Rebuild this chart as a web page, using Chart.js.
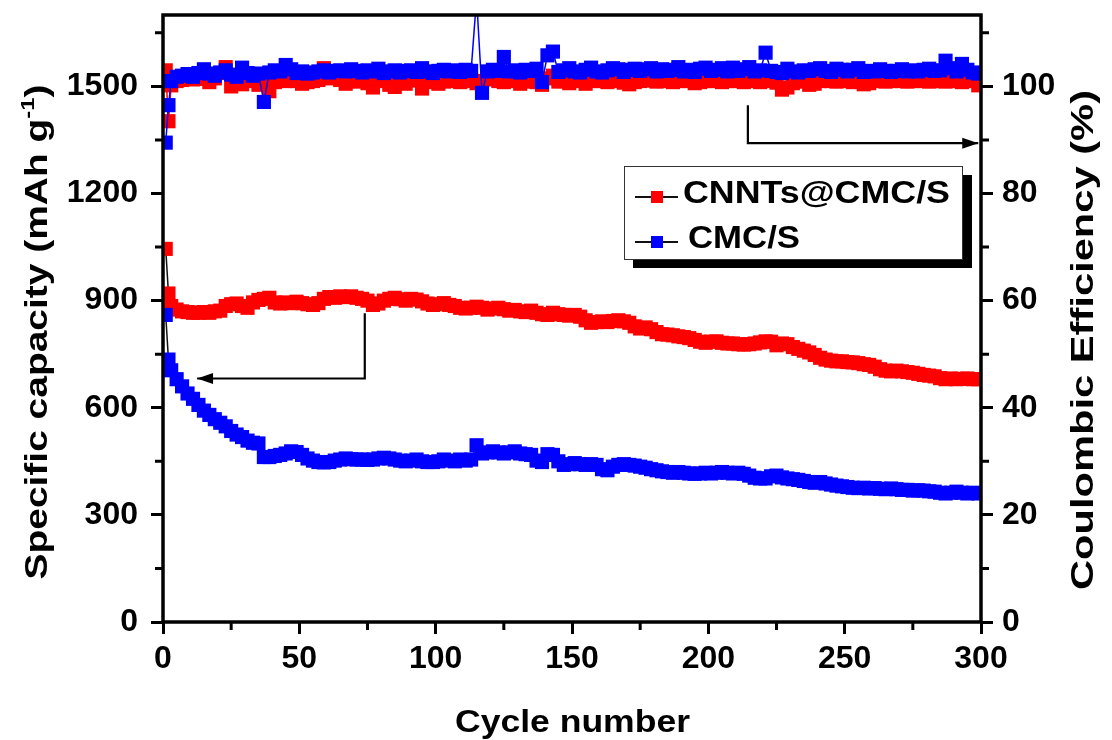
<!DOCTYPE html>
<html><head><meta charset="utf-8">
<script src="https://cdn.jsdelivr.net/npm/chart.js@4.4.1/dist/chart.umd.min.js"></script>
<style>html,body{margin:0;padding:0;background:#fff;}canvas{display:block;}</style>
</head><body>
<canvas id="c" width="1112" height="740"></canvas>
<script>
// ---------- data ----------
const cycles = [
1,2,3,5,7,9,11,13,15,17,
19,21,23,25,27,29,31,33,35,37,
39,41,43,45,47,49,51,53,55,57,
59,61,63,65,67,69,71,73,75,77,
79,81,83,85,87,89,91,93,95,97,
99,101,103,105,107,109,111,113,115,117,
119,121,123,125,127,129,131,133,135,137,
139,141,143,145,147,149,151,153,155,157,
159,161,163,165,167,169,171,173,175,177,
179,181,183,185,187,189,191,193,195,197,
199,201,203,205,207,209,211,213,215,217,
219,221,223,225,227,229,231,233,235,237,
239,241,243,245,247,249,251,253,255,257,
259,261,263,265,267,269,271,273,275,277,
279,281,283,285,287,289,291,293,295,297,
299];
const capCNNT = [
1045,920,885,875,870,868,866,866,868,866,
870,872,885,890,892,885,880,895,902,905,
908,895,892,895,893,897,893,890,888,893,
905,910,908,912,910,912,908,905,900,888,
892,900,905,908,904,900,905,903,898,892,
888,890,893,888,885,880,878,880,883,880,
875,878,880,876,872,874,870,868,872,866,
862,860,866,862,860,858,860,855,845,838,
840,842,840,843,845,842,838,828,822,825,
820,812,806,805,803,800,798,795,790,785,
782,785,786,782,780,780,778,777,778,780,
783,786,785,775,780,778,770,765,760,755,
748,740,735,732,730,730,728,727,725,722,
720,715,708,704,702,704,702,700,698,695,
692,690,688,683,680,682,680,681,682,680,
680];
const capCMC = [
860,735,705,680,660,640,625,608,592,580,
568,558,548,535,525,518,508,502,500,462,
462,465,468,472,478,476,468,458,452,448,
447,448,452,455,458,456,455,455,454,455,
458,460,458,455,452,450,452,455,450,448,
448,450,455,452,450,455,452,455,495,472,
475,478,475,472,475,478,472,470,468,452,
448,470,468,450,440,442,445,442,440,442,
440,428,425,435,440,442,440,438,435,432,
428,425,422,420,418,420,418,416,415,416,
418,416,418,420,418,416,418,415,410,404,
402,402,408,410,405,402,400,398,395,392,
390,392,388,385,382,380,378,376,375,376,
374,375,373,372,374,372,370,370,368,369,
368,366,365,362,360,362,365,362,360,362,
360];
const ceCNNT = [
103,93.5,100.2,101,101.2,101.5,101.3,101.6,101.4,100.8,
101.5,102.5,103.6,100,101,100.4,101.2,101,100.3,101.5,
99.1,100.8,101.2,101,101.3,101,100.5,100.8,101,101.2,
103.4,101.5,102.3,101.2,100.5,101,100.9,101.2,100.6,99.8,
101,101.2,100.3,99.9,101,100.5,101.1,101.3,99.6,100.8,
101,100.5,100.9,101.2,101,100.8,101,101.2,100.6,101,
101.5,101.3,101,100.8,101.2,101,100.5,100.9,101.2,100.8,
100.3,101.5,102,100.9,101,100.6,101.2,101,100.5,101,
101.3,101,100.8,101.1,101,100.7,100.4,100.8,101,101.3,
101.1,100.9,101,101.2,100.8,101,101.2,101,100.6,100.8,
101,101.2,101,100.8,101,101.1,101,100.8,101,101.2,
100.8,101,101.1,100.7,99.4,99.8,100.6,100.9,101,100.3,
100.5,101,101.2,101,100.9,101,101.1,100.8,101,100.4,
100.6,101,101.1,100.9,101,101.2,101,100.9,101,101.2,
101,100.9,101,101.1,100.9,101,101.2,100.8,101,101.2,
100.2];
const ceCMC = [
89.5,96.5,101,101.8,102,102.3,101.8,102.5,103.2,102.4,
102,102.6,103,102.2,101.8,103.5,102.5,102,102.4,97.1,
102.6,103,102.8,104,103.2,102.5,102.8,102.4,102.6,102.8,
103,102.6,102.9,103,102.8,103.2,102.9,102.6,103,102.8,
103.3,102.5,102.8,103,102.6,102.9,103,102.7,103.4,102.8,
102.5,102.9,103.1,102.8,103,102.7,103.1,102.9,116.5,98.8,
102.8,103.1,102.9,105.5,102.8,103,102.6,103.1,102.9,103.3,
100.8,105.8,106.5,102.7,103,103.4,102.8,102.6,103.1,103.5,
102.8,102.6,103,103.4,103.2,102.7,103.1,103.3,102.9,103.2,
103.4,102.8,103.2,102.9,103.1,103.6,102.8,103.1,102.7,103.3,
103.5,102.9,103.1,103.4,102.8,103.5,102.9,103.2,103.6,102.8,
103,106.3,102.9,102.7,102.5,103.3,102.8,102.6,103,102.9,
103.2,103.4,102.9,102.7,103.3,103.1,102.8,103.1,103.4,102.7,
102.9,102.8,103.2,102.9,102.7,102.9,103.2,102.8,103,102.8,
103.1,103.3,102.9,103,104.8,103.4,102.8,104.2,103.1,102.6,
102.4];
const seriesNames = ['CNNTs@CMC/S', 'CMC/S'];
const xTicks = [0,50,100,150,200,250,300];
const xMinor = [25,75,125,175,225,275];
const capTicks = [0,300,600,900,1200,1500];
const capMinor = [150,450,750,1050,1350,1650];
const ceTicks = [0,20,40,60,80,100];
const ceMinor = [10,30,50,70,90,110];

// ---------- styling ----------
const FAM = "'Liberation Sans', Arial, Helvetica, sans-serif";
const RED = '#ff0000', BLUE = '#0000ff';
const pts = (ys) => cycles.map((c, i) => ({x: c, y: ys[i]}));

function textWidth(ctx, segs, size) {
  let w = 0;
  segs.forEach(sg => { ctx.font = 'bold ' + Math.round(size * (sg.s || 1)) + 'px ' + FAM; w += ctx.measureText(sg.t).width; });
  return w;
}
function drawSegs(ctx, segs, size, x0) {
  let x = x0;
  segs.forEach(sg => {
    ctx.font = 'bold ' + Math.round(size * (sg.s || 1)) + 'px ' + FAM;
    ctx.fillText(sg.t, x, sg.dy || 0);
    x += ctx.measureText(sg.t).width;
  });
}
function drawTitle(ctx, segs, size, cx, cy, len, rot) {
  ctx.save();
  ctx.translate(cx, cy);
  ctx.rotate(rot);
  const w = textWidth(ctx, segs, size);
  ctx.scale(len / w, 1);
  ctx.fillStyle = '#000';
  ctx.textBaseline = 'alphabetic';
  ctx.textAlign = 'left';
  drawSegs(ctx, segs, size, -w / 2);
  ctx.restore();
}

const deco = {
  id: 'deco',
  afterDatasetsDraw(chart) {
    const ctx = chart.ctx, a = chart.chartArea;
    const sx = chart.scales.x, sy = chart.scales.y, sy1 = chart.scales.y1;
    ctx.save();
    ctx.strokeStyle = '#000'; ctx.lineWidth = 3.5;
    ctx.strokeRect(a.left, a.top, a.right - a.left, a.bottom - a.top);
    ctx.lineWidth = 3;
    ctx.beginPath();
    xMinor.forEach(v => { const p = sx.getPixelForValue(v); ctx.moveTo(p, a.bottom); ctx.lineTo(p, a.bottom + 8); });
    capMinor.forEach(v => { const p = sy.getPixelForValue(v); ctx.moveTo(a.left, p); ctx.lineTo(a.left - 8, p); });
    ceMinor.forEach(v => { const p = sy1.getPixelForValue(v); ctx.moveTo(a.right, p); ctx.lineTo(a.right + 8, p); });
    ctx.stroke();
    function arrow(pts, tipDir) {
      ctx.beginPath(); ctx.lineWidth = 2.2; ctx.strokeStyle = '#000';
      ctx.moveTo(pts[0][0], pts[0][1]);
      for (let i = 1; i < pts.length; i++) ctx.lineTo(pts[i][0], pts[i][1]);
      ctx.stroke();
      const [tx, ty] = pts[pts.length - 1];
      ctx.beginPath(); ctx.fillStyle = '#000';
      ctx.moveTo(tx, ty);
      ctx.lineTo(tx - tipDir * 16, ty - 5.5);
      ctx.lineTo(tx - tipDir * 16, ty + 5.5);
      ctx.closePath(); ctx.fill();
    }
    arrow([[sx.getPixelForValue(74), sy.getPixelForValue(865)], [sx.getPixelForValue(74), sy.getPixelForValue(682)], [sx.getPixelForValue(12.5), sy.getPixelForValue(682)]], -1);
    arrow([[sx.getPixelForValue(214.5), sy1.getPixelForValue(96.5)], [sx.getPixelForValue(214.5), sy1.getPixelForValue(89.4)], [sx.getPixelForValue(299), sy1.getPixelForValue(89.4)]], 1);
    // legend
    ctx.fillStyle = '#000';
    ctx.fillRect(633, 175, 339, 93);
    ctx.fillStyle = '#fff';
    ctx.fillRect(624, 166, 339, 94);
    ctx.strokeStyle = '#333'; ctx.lineWidth = 1;
    ctx.strokeRect(624.5, 166.5, 338, 93);
    const rows = [{name: seriesNames[0], c: RED, my: 197, ty: 203, tx: 683, len: 267},
                  {name: seriesNames[1], c: BLUE, my: 242, ty: 248, tx: 688, len: 112}];
    rows.forEach(r => {
      ctx.strokeStyle = '#111'; ctx.lineWidth = 2;
      ctx.beginPath(); ctx.moveTo(635, r.my); ctx.lineTo(678, r.my); ctx.stroke();
      ctx.fillStyle = r.c; ctx.fillRect(651, r.my - 6, 12, 12);
      ctx.save();
      ctx.translate(r.tx, r.ty);
      const segs = [{t: r.name}];
      const w = textWidth(ctx, segs, 31);
      ctx.scale(r.len / w, 1);
      ctx.fillStyle = '#000'; ctx.textBaseline = 'alphabetic'; ctx.textAlign = 'left';
      drawSegs(ctx, segs, 31, 0);
      ctx.restore();
    });
    drawTitle(ctx, [{t: 'Cycle number'}], 31, 572.5, 732, 235, 0);
    drawTitle(ctx, [{t: 'Specific capacity (mAh g'}, {t: '-1', s: 0.6, dy: -13}, {t: ')'}], 31, 47, 332, 495, -Math.PI / 2);
    drawTitle(ctx, [{t: 'Coulombic Efficiency (%)'}], 31, 1093, 340, 500, -Math.PI / 2);
    ctx.restore();
  }
};

const tickFont = {family: FAM, size: 32, weight: 'bold'};
const gridCfg = {drawOnChartArea: false, drawTicks: true, tickLength: 12, tickWidth: 3, tickColor: '#000'};
const plain = v => String(v);

new Chart(document.getElementById('c'), {
  type: 'line',
  data: {
    datasets: [
      {label: seriesNames[0], data: pts(capCNNT), yAxisID: 'y', order: 3,
       borderColor: '#111', borderWidth: 1.5, pointStyle: 'rect', pointRadius: 10, pointBorderWidth: 0,
       pointBackgroundColor: RED, pointBorderColor: RED},
      {label: seriesNames[1], data: pts(capCMC), yAxisID: 'y', order: 2,
       borderColor: '#111', borderWidth: 1.5, pointStyle: 'rect', pointRadius: 10, pointBorderWidth: 0,
       pointBackgroundColor: BLUE, pointBorderColor: BLUE},
      {label: seriesNames[0] + ' CE', data: pts(ceCNNT), yAxisID: 'y1', order: 1,
       borderColor: RED, borderWidth: 1.5, pointStyle: 'rect', pointRadius: 10, pointBorderWidth: 0,
       pointBackgroundColor: RED, pointBorderColor: RED},
      {label: seriesNames[1] + ' CE', data: pts(ceCMC), yAxisID: 'y1', order: 0,
       borderColor: BLUE, borderWidth: 1.5, pointStyle: 'rect', pointRadius: 10, pointBorderWidth: 0,
       pointBackgroundColor: BLUE, pointBorderColor: BLUE}
    ]
  },
  options: {
    responsive: false, animation: false, devicePixelRatio: 1,
    layout: {padding: {top: 15, left: 0, right: 0, bottom: 0}},
    plugins: {legend: {display: false}, tooltip: {enabled: false}},
    elements: {line: {tension: 0}},
    scales: {
      x: {type: 'linear', position: 'bottom', min: 0, max: 300,
          afterBuildTicks: s => { s.ticks = xTicks.map(v => ({value: v})); },
          afterFit: s => { s.height = 118; s.paddingLeft = 0; s.paddingRight = 0; },
          ticks: {font: tickFont, color: '#000', padding: 6, maxRotation: 0, autoSkip: false, callback: plain},
          grid: gridCfg, border: {display: false}},
      y: {type: 'linear', position: 'left', min: 0, max: 1700,
          afterBuildTicks: s => { s.ticks = capTicks.map(v => ({value: v})); },
          afterFit: s => { s.width = 163; s.paddingTop = 0; s.paddingBottom = 0; },
          ticks: {font: tickFont, color: '#000', padding: 13, autoSkip: false, callback: plain},
          grid: gridCfg, border: {display: false}},
      y1: {type: 'linear', position: 'right', min: 0, max: 1700 / 15,
          afterBuildTicks: s => { s.ticks = ceTicks.map(v => ({value: v})); },
          afterFit: s => { s.width = 131; s.paddingTop = 0; s.paddingBottom = 0; },
          ticks: {font: tickFont, color: '#000', padding: 9, autoSkip: false, callback: plain},
          grid: gridCfg, border: {display: false}}
    }
  },
  plugins: [deco]
});
</script>
</body></html>
